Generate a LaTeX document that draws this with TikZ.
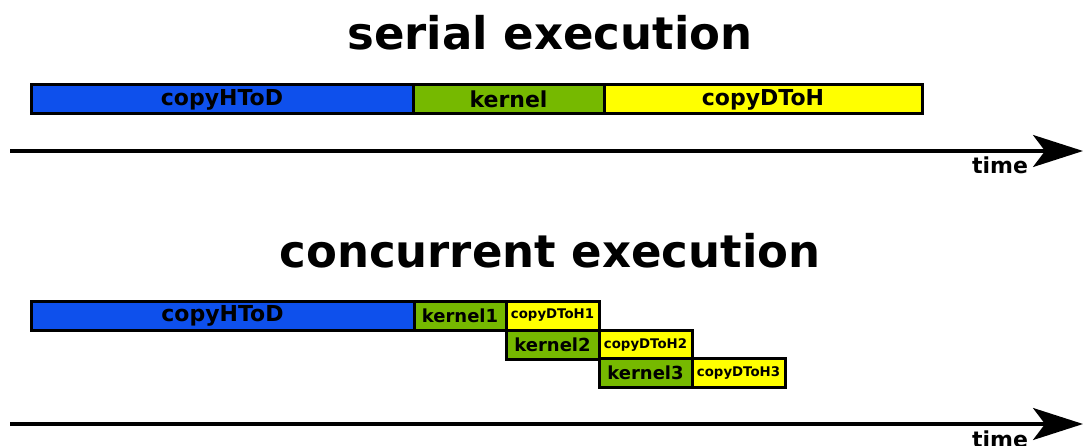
\documentclass[tikz,border=0pt]{standalone}
\usepackage{fontspec}
\setmainfont{DejaVu Sans}
\usetikzlibrary{arrows.meta}
\definecolor{hdblue}{RGB}{14,80,236}
\definecolor{kgreen}{RGB}{118,185,0}
\definecolor{dhyellow}{RGB}{255,255,0}
\tikzset{
  task/.style={draw=black, line width=3pt, inner sep=0pt, font=\bfseries\fontsize{22}{22}\selectfont},
  smalltask/.style={task, font=\bfseries\fontsize{18}{18}\selectfont},
  tinytask/.style={task, font=\bfseries\fontsize{13.3}{13.3}\selectfont},
  title/.style={font=\bfseries\fontsize{45}{45}\selectfont},
  timelabel/.style={anchor=base, font=\bfseries\fontsize{22}{22}\selectfont},
  timeaxis/.style={line width=3.2pt, -{Stealth[length=50pt, width=32pt, inset=12pt]}}
}
\begin{document}
\begin{tikzpicture}[x=1pt, y=-1pt]
\useasboundingbox (0,0) rectangle (1083,446);

% serial execution
\node[title] (t1) at (550,33) {serial execution};
\node[task, fill=hdblue, minimum width=382pt, minimum height=29pt] (s1) at (222,99.5) {copyHToD};
\node[task, fill=kgreen, minimum width=191pt, minimum height=29pt] (s2) at (508.5,99.5) {kernel};
\node[task, fill=dhyellow, minimum width=318pt, minimum height=29pt] (s3) at (763,99.5) {copyDToH};
\coordinate (a1s) at (10,151);
\coordinate (a1e) at (1083,151);
\draw[timeaxis] (a1s) -- (a1e);
\node[timelabel] (l1) at (1000,174) {time};

% concurrent execution
\node[title] (t2) at (550,251) {concurrent execution};
\node[task, fill=hdblue, minimum width=383pt, minimum height=29pt] (c1) at (222.5,315.5) {copyHToD};
\node[smalltask, fill=kgreen, minimum width=92pt, minimum height=29pt] (k1) at (460,315.5) {kernel1};
\node[tinytask, fill=dhyellow, minimum width=93pt, minimum height=29pt] (d1) at (552.5,315.5) {copyDToH1};
\node[smalltask, fill=kgreen, minimum width=93pt, minimum height=29pt] (k2) at (552.5,344.5) {kernel2};
\node[tinytask, fill=dhyellow, minimum width=93pt, minimum height=29pt] (d2) at (645.5,344.5) {copyDToH2};
\node[smalltask, fill=kgreen, minimum width=93pt, minimum height=29pt] (k3) at (645.5,372.5) {kernel3};
\node[tinytask, fill=dhyellow, minimum width=93pt, minimum height=29pt] (d3) at (738.5,372.5) {copyDToH3};
\coordinate (a2s) at (10,424);
\coordinate (a2e) at (1083,424);
\draw[timeaxis] (a2s) -- (a2e);
\node[timelabel] (l2) at (1000,447) {time};
\end{tikzpicture}
\end{document}
